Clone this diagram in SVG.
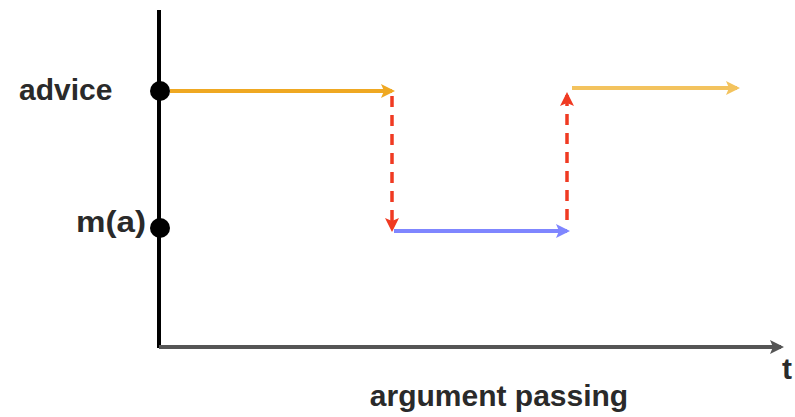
<svg xmlns="http://www.w3.org/2000/svg" width="795" height="417" viewBox="0 0 795 417">
<defs>
<style>
.lbl{font-family:"Liberation Sans",Arial,sans-serif;font-weight:bold;font-size:30px;fill:#2a2a2a}
.ln{fill:none;stroke-width:4}
.dash{fill:none;stroke:#F03A22;stroke-width:3.5;stroke-dasharray:11 8}
</style>
<marker id="aOr" markerWidth="14" markerHeight="14" refX="11" refY="7" orient="auto" markerUnits="userSpaceOnUse"><path d="M0,0 L14,7 L0,14 L3,7 Z" fill="#EFA822"/></marker>
<marker id="aLo" markerWidth="14" markerHeight="14" refX="11" refY="7" orient="auto" markerUnits="userSpaceOnUse"><path d="M0,0 L14,7 L0,14 L3,7 Z" fill="#F3C35E"/></marker>
<marker id="aBl" markerWidth="14" markerHeight="14" refX="11" refY="7" orient="auto" markerUnits="userSpaceOnUse"><path d="M0,0 L14,7 L0,14 L3,7 Z" fill="#7F86FF"/></marker>
<marker id="aRd" markerWidth="14" markerHeight="14" refX="11" refY="7" orient="auto" markerUnits="userSpaceOnUse"><path d="M0,0 L14,7 L0,14 L3,7 Z" fill="#F03A22"/></marker>
<marker id="aGy" markerWidth="14" markerHeight="14" refX="11" refY="7" orient="auto" markerUnits="userSpaceOnUse"><path d="M0,0 L14,7 L0,14 L3,7 Z" fill="#555"/></marker>
</defs>
<g id="axes">
<line x1="159" y1="10" x2="159" y2="348" stroke="#000" stroke-width="4"/>
<line x1="159" y1="347" x2="781" y2="347" stroke="#555" stroke-width="4" marker-end="url(#aGy)"/>
</g>
<g id="connectors">
<line class="ln" x1="170" y1="91" x2="392" y2="91" stroke="#EFA822" marker-end="url(#aOr)"/>
<line class="dash" x1="392" y1="96" x2="392" y2="229" marker-end="url(#aRd)"/>
<line class="ln" x1="394" y1="231" x2="567" y2="231" stroke="#7F86FF" marker-end="url(#aBl)"/>
<line class="dash" x1="567" y1="220" x2="567" y2="95" marker-end="url(#aRd)"/>
<line class="ln" x1="572" y1="88" x2="737" y2="88" stroke="#F3C35E" marker-end="url(#aLo)"/>
</g>
<g id="advice">
<circle cx="160" cy="91" r="10" fill="#000"/>
<text class="lbl" x="19" y="100">advice</text>
</g>
<g id="ma">
<circle cx="160" cy="228" r="10" fill="#000"/>
<text class="lbl" x="146" y="232" text-anchor="end" textLength="70" lengthAdjust="spacingAndGlyphs">m(a)</text>
</g>
<g id="labels">
<text class="lbl" x="499" y="406" text-anchor="middle">argument passing</text>
<text class="lbl" x="782" y="379">t</text>
</g>
</svg>
